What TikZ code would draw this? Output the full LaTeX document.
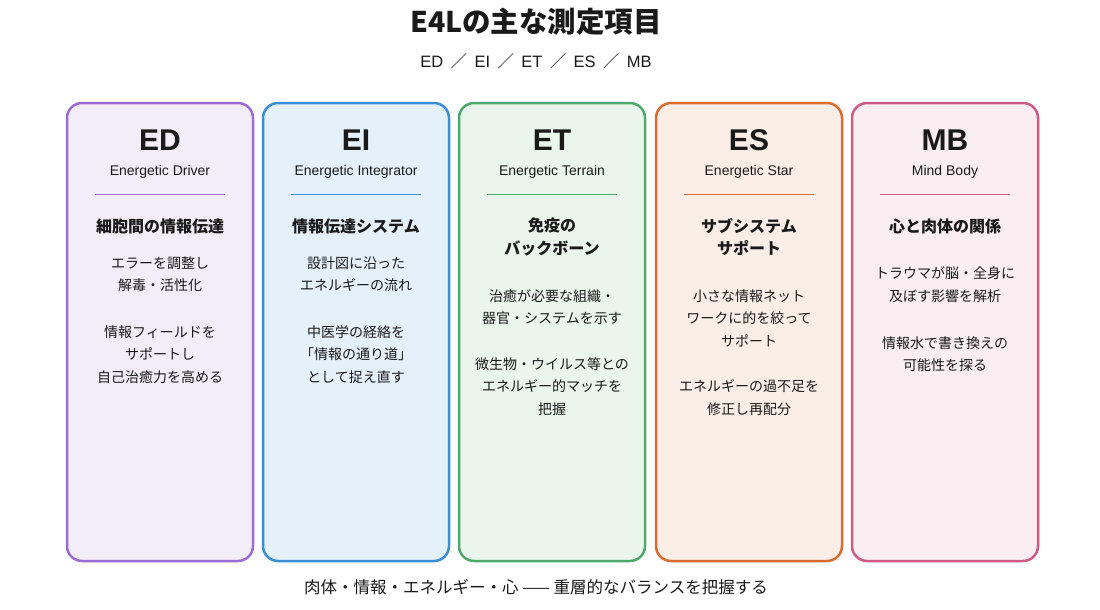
\documentclass[tikz,border=0pt]{standalone}
\usepackage{fontspec}
\setmainfont{Noto Sans CJK JP}
\newfontfamily\latin{Liberation Sans}
\usepackage{xcolor}
\usepackage{tikz}
\usetikzlibrary{calc}

\definecolor{edline}{HTML}{9C6BD3}
\definecolor{edfill}{HTML}{F3ECF9}
\definecolor{eiline}{HTML}{3A8ED6}
\definecolor{eifill}{HTML}{E4F0FA}
\definecolor{etline}{HTML}{4DAA6C}
\definecolor{etfill}{HTML}{EAF5EC}
\definecolor{esline}{HTML}{D96C33}
\definecolor{esfill}{HTML}{FBEEE6}
\definecolor{mbline}{HTML}{CF5A86}
\definecolor{mbfill}{HTML}{FAEEF3}
\definecolor{ink}{HTML}{1A1A1A}

\begin{document}
\begin{tikzpicture}[x=1pt, y=-1pt,
  card/.style={draw, rounded corners=15pt, line width=2.5pt, minimum width=186pt, minimum height=458pt, inner sep=0pt},
  code/.style={font=\latin\fontsize{30}{30}\selectfont\bfseries, text=ink, inner sep=0pt},
  full/.style={font=\latin\fontsize{14}{16}\selectfont, text=ink, inner sep=0pt},
  head/.style={font=\fontsize{16}{22.5}\selectfont\bfseries, text=ink, align=center, inner sep=0pt},
  body/.style={font=\fontsize{14}{22.5}\selectfont, text=ink, align=center, inner sep=0pt}]
  \useasboundingbox[fill=white] (0,0) rectangle (1100,610);
  \def\rw{65}

  \node[font=\fontsize{28.5}{30}\selectfont\bfseries, text=ink] (title) at (536,22) {E4Lの主な測定項目};
  \node[font=\latin\fontsize{16.5}{18}\selectfont, text=ink] (subtitle) at (536,61) {ED \,{\rmfamily ／}\, EI \,{\rmfamily ／}\, ET \,{\rmfamily ／}\, ES \,{\rmfamily ／}\, MB};

  \node[card, draw=edline, fill=edfill] (ed) at (160,332) {};
  \node[code] (edcode) at (160,140) {ED};
  \node[full] (edfull) at (160,172) {Energetic Driver};
  \draw[edline, line width=1.2pt] ($(ed.north)+(-\rw,93)$) coordinate (edl) -- ($(ed.north)+(\rw,93)$) coordinate (edr);
  \node[head] (edhead) at (160,226) {細胞間の情報伝達};
  \node[body] (edone) at (160,274) {エラーを調整し\\解毒・活性化};
  \node[body] (edtwo) at (160,354.5) {情報フィールドを\\サポートし\\自己治癒力を高める};

  \node[card, draw=eiline, fill=eifill] (ei) at (356,332) {};
  \node[code] (eicode) at (356,140) {EI};
  \node[full] (eifull) at (356,172) {Energetic Integrator};
  \draw[eiline, line width=1.2pt] ($(ei.north)+(-\rw,93)$) coordinate (eil) -- ($(ei.north)+(\rw,93)$) coordinate (eir);
  \node[head] (eihead) at (356,226) {情報伝達システム};
  \node[body] (eione) at (356,274) {設計図に沿った\\エネルギーの流れ};
  \node[body] (eitwo) at (356,354.5) {中医学の経絡を\\「情報の通り道」\\として捉え直す};

  \node[card, draw=etline, fill=etfill] (et) at (552,332) {};
  \node[code] (etcode) at (552,140) {ET};
  \node[full] (etfull) at (552,172) {Energetic Terrain};
  \draw[etline, line width=1.2pt] ($(et.north)+(-\rw,93)$) coordinate (etl) -- ($(et.north)+(\rw,93)$) coordinate (etr);
  \node[head] (ethead) at (552,237) {免疫の\\バックボーン};
  \node[body] (etone) at (552,307) {治癒が必要な組織・\\器官・システムを示す};
  \node[body] (ettwo) at (552,386.5) {微生物・ウイルス等との\\エネルギー的マッチを\\把握};

  \node[card, draw=esline, fill=esfill] (es) at (749,332) {};
  \node[code] (escode) at (749,140) {ES};
  \node[full] (esfull) at (749,172) {Energetic Star};
  \draw[esline, line width=1.2pt] ($(es.north)+(-\rw,93)$) coordinate (esl) -- ($(es.north)+(\rw,93)$) coordinate (esr);
  \node[head] (eshead) at (749,237) {サブシステム\\サポート};
  \node[body] (esone) at (749,318) {小さな情報ネット\\ワークに的を絞って\\サポート};
  \node[body] (estwo) at (749,397.5) {エネルギーの過不足を\\修正し再配分};

  \node[card, draw=mbline, fill=mbfill] (mb) at (945,332) {};
  \node[code] (mbcode) at (945,140) {MB};
  \node[full] (mbfull) at (945,172) {Mind Body};
  \draw[mbline, line width=1.2pt] ($(mb.north)+(-\rw,93)$) coordinate (mbl) -- ($(mb.north)+(\rw,93)$) coordinate (mbr);
  \node[head] (mbhead) at (945,226) {心と肉体の関係};
  \node[body] (mbone) at (945,284.5) {トラウマが脳・全身に\\及ぼす影響を解析};
  \node[body] (mbtwo) at (945,354) {情報水で書き換えの\\可能性を探る};

  \node[font=\fontsize{16.5}{18}\selectfont, text=ink] (footer) at (536,587) {肉体・情報・エネルギー・心 —— 重層的なバランスを把握する};
\end{tikzpicture}
\end{document}
